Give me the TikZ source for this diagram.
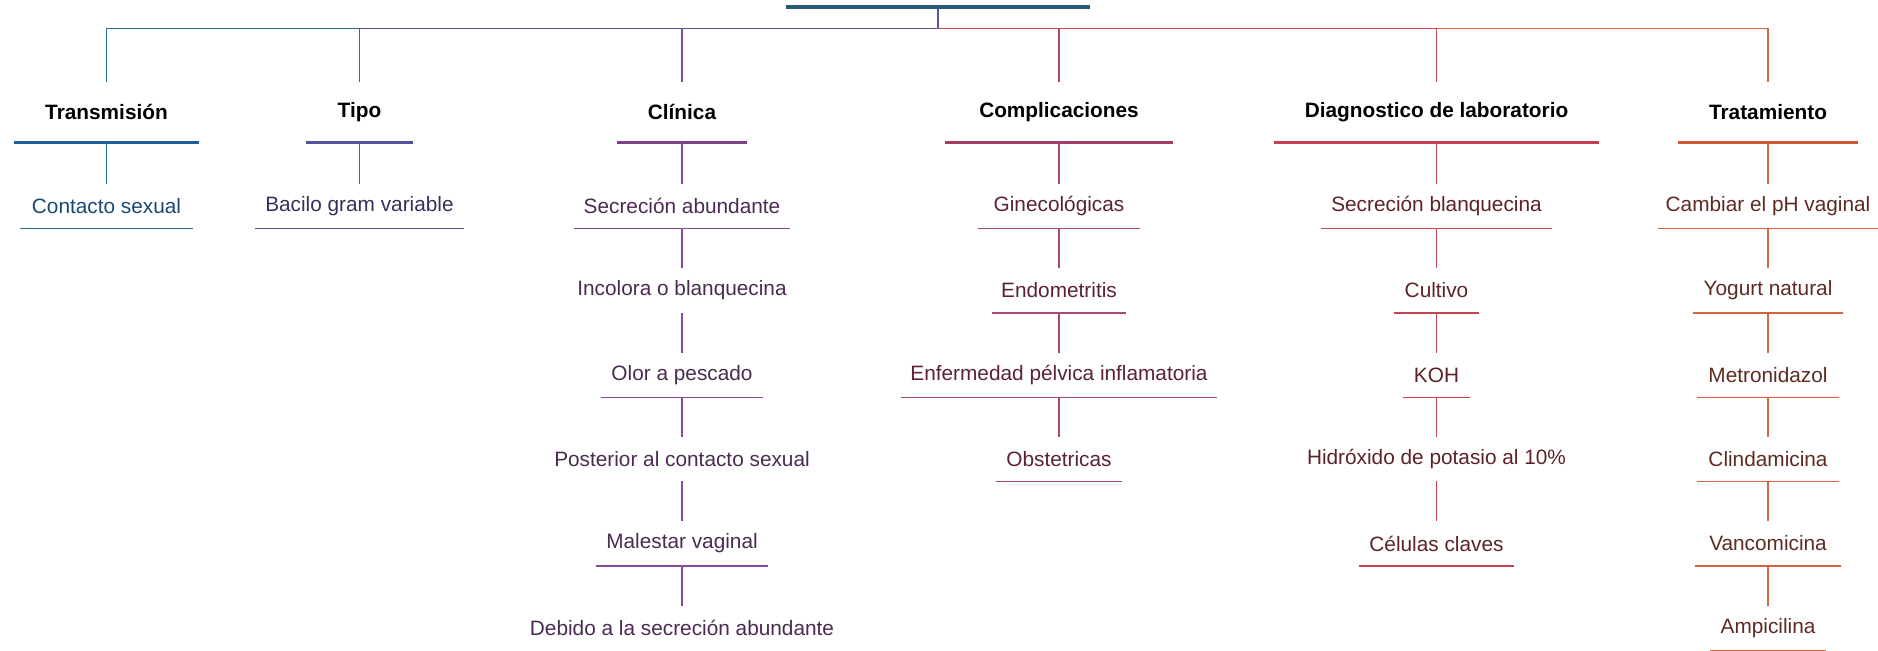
\documentclass[tikz,border=0pt]{standalone}
\usepackage{fontspec}
\setmainfont{Liberation Sans}

\definecolor{rootbar}{HTML}{275A77}
\definecolor{transbar}{HTML}{1F5F99}\definecolor{transline}{HTML}{2A6FA8}\definecolor{transtext}{HTML}{1B4872}
\definecolor{tipobar}{HTML}{55509B}\definecolor{tipoline}{HTML}{5E52A2}\definecolor{tipotext}{HTML}{36305C}
\definecolor{clinbar}{HTML}{7C3F88}\definecolor{clinline}{HTML}{864A98}\definecolor{clintext}{HTML}{4B2A52}
\definecolor{compbar}{HTML}{A23D66}\definecolor{compline}{HTML}{AA4874}\definecolor{comptext}{HTML}{5A2232}
\definecolor{diagbar}{HTML}{C43F4F}\definecolor{diagline}{HTML}{C84453}\definecolor{diagtext}{HTML}{5C2227}
\definecolor{tratbar}{HTML}{CD5A31}\definecolor{tratline}{HTML}{D8643E}\definecolor{trattext}{HTML}{5D2B22}

\tikzset{
  head/.style={font=\fontsize{10.4}{12}\selectfont\bfseries, inner sep=0pt, minimum height=30pt},
  item/.style={font=\fontsize{10.4}{12}\selectfont, inner sep=0pt, minimum height=22pt},
  thin/.style={draw=#1, line width=0.7pt},
  hbar/.style={draw=#1, line width=1.8pt},
}

\begin{document}
\begin{tikzpicture}[x=0.5pt, y=-0.5pt]
    \useasboundingbox (0,0) rectangle (1878,650);

    \node[fill=rootbar, minimum width=152pt, minimum height=2pt, inner sep=0pt] (root) at (938,7) {};
    \coordinate (hub) at (938,28.5);

    \node[head, minimum width=92.5pt] (trans) at (106.5,112) {Transmisión};
    \node[head, minimum width=53.5pt] (tipo) at (359.5,112) {Tipo};
    \node[head, minimum width=64.5pt] (clin) at (682,112) {Clínica};
    \node[head, minimum width=114pt] (comp) at (1059,112) {Complicaciones};
    \node[head, minimum width=162.5pt] (diag) at (1436.5,112) {Diagnostico de laboratorio};
    \node[head, minimum width=90pt] (trat) at (1768,112) {Tratamiento};

    \draw[thin=tipoline] (root.south) -- (hub);
    \draw[thin=clinline] (hub) -| (clin.north);
    \draw[thin=transline] (hub) -| (trans.north);
    \draw[thin=tipoline] (hub) -| (tipo.north);
    \draw[thin=compline] (hub) -| (comp.north);
    \draw[thin=tratline] (hub) -| (trat.north);
    \draw[thin=diagline] (hub) -| (diag.north);

    \draw[hbar=transbar] (trans.south west) -- (trans.south east);
    \draw[hbar=tipobar] (tipo.south west) -- (tipo.south east);
    \draw[hbar=clinbar] (clin.south west) -- (clin.south east);
    \draw[hbar=compbar] (comp.south west) -- (comp.south east);
    \draw[hbar=diagbar] (diag.south west) -- (diag.south east);
    \draw[hbar=tratbar] (trat.south west) -- (trat.south east);

    \node[item, text=transtext, minimum width=86pt] (t1) at (106.5,206) {Contacto sexual};

    \node[item, text=tipotext, minimum width=104pt] (p1) at (359.5,206) {Bacilo gram variable};

    \node[item, text=clintext, minimum width=108pt] (c1) at (682,206) {Secreción abundante};
    \node[item, text=clintext] (c2) at (682,290.5) {Incolora o blanquecina};
    \node[item, text=clintext, minimum width=80.5pt] (c3) at (682,375) {Olor a pescado};
    \node[item, text=clintext] (c4) at (682,459) {Posterior al contacto sexual};
    \node[item, text=clintext, minimum width=86pt] (c5) at (682,543.5) {Malestar vaginal};
    \node[item, text=clintext] (c6) at (682,628) {Debido a la secreción abundante};

    \node[item, text=comptext, minimum width=81pt] (m1) at (1059,206) {Ginecológicas};
    \node[item, text=comptext, minimum width=67pt] (m2) at (1059,290.5) {Endometritis};
    \node[item, text=comptext, minimum width=158pt] (m3) at (1059,375) {Enfermedad pélvica inflamatoria};
    \node[item, text=comptext, minimum width=62.5pt] (m4) at (1059,459) {Obstetricas};

    \node[item, text=diagtext, minimum width=115.5pt] (d1) at (1436.5,206) {Secreción blanquecina};
    \node[item, text=diagtext, minimum width=42pt] (d2) at (1436.5,290.5) {Cultivo};
    \node[item, text=diagtext, minimum width=33pt] (d3) at (1436.5,375) {KOH};
    \node[item, text=diagtext] (d4) at (1436.5,459) {Hidróxido de potasio al 10\%};
    \node[item, text=diagtext, minimum width=77.5pt] (d5) at (1436.5,543.5) {Células claves};

    \node[item, text=trattext, minimum width=110pt] (r1) at (1768,206) {Cambiar el pH vaginal};
    \node[item, text=trattext, minimum width=74.5pt] (r2) at (1768,290.5) {Yogurt natural};
    \node[item, text=trattext, minimum width=70.5pt] (r3) at (1768,375) {Metronidazol};
    \node[item, text=trattext, minimum width=70.5pt] (r4) at (1768,459) {Clindamicina};
    \node[item, text=trattext, minimum width=72.5pt] (r5) at (1768,543.5) {Vancomicina};
    \node[item, text=trattext, minimum width=57.5pt] (r6) at (1768,628) {Ampicilina};

    \draw[thin=transline] (trans.south) -- (t1.north);
    \draw[thin=tipoline] (tipo.south) -- (p1.north);
    \foreach \a/\b in {clin/c1, c1/c2, c2/c3, c3/c4, c4/c5, c5/c6}
        \draw[thin=clinline] (\a.south) -- (\b.north);
    \foreach \a/\b in {comp/m1, m1/m2, m2/m3, m3/m4}
        \draw[thin=compline] (\a.south) -- (\b.north);
    \foreach \a/\b in {diag/d1, d1/d2, d2/d3, d3/d4, d4/d5}
        \draw[thin=diagline] (\a.south) -- (\b.north);
    \foreach \a/\b in {trat/r1, r1/r2, r2/r3, r3/r4, r4/r5, r5/r6}
        \draw[thin=tratline] (\a.south) -- (\b.north);

    \draw[thin=transline] (t1.south west) -- (t1.south east);
    \draw[thin=tipoline] (p1.south west) -- (p1.south east);
    \foreach \n in {c1, c3, c5}
        \draw[thin=clinline] (\n.south west) -- (\n.south east);
    \foreach \n in {m1, m2, m3, m4}
        \draw[thin=compline] (\n.south west) -- (\n.south east);
    \foreach \n in {d1, d2, d3, d5}
        \draw[thin=diagline] (\n.south west) -- (\n.south east);
    \foreach \n in {r1, r2, r3, r4, r5, r6}
        \draw[thin=tratline] (\n.south west) -- (\n.south east);
\end{tikzpicture}
\end{document}
